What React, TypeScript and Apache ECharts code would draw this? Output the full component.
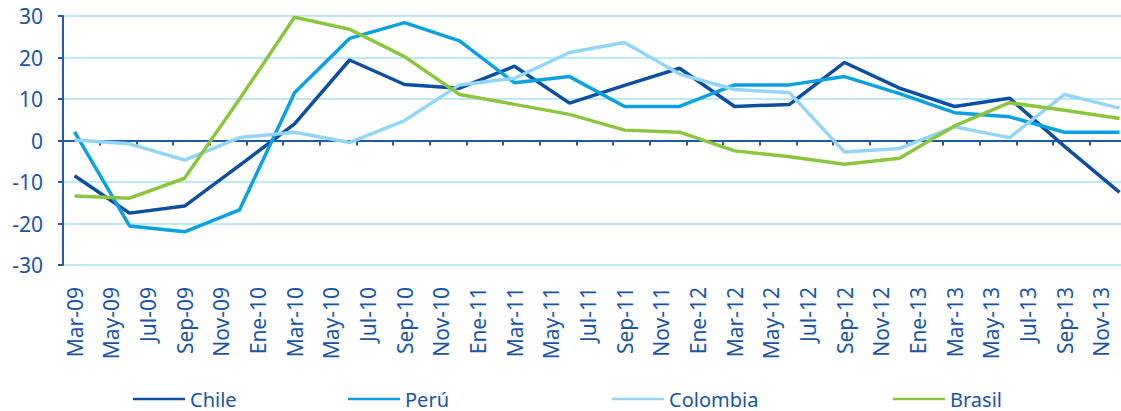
import React, { useEffect, useRef } from "react";
import * as echarts from "echarts";

// Bimonthly axis labels (shown every 2 months)
const axisLabels = [
  "Mar-09", "May-09", "Jul-09", "Sep-09", "Nov-09", "Ene-10", "Mar-10", "May-10",
  "Jul-10", "Sep-10", "Nov-10", "Ene-11", "Mar-11", "May-11", "Jul-11", "Sep-11",
  "Nov-11", "Ene-12", "Mar-12", "May-12", "Jul-12", "Sep-12", "Nov-12", "Ene-13",
  "Mar-13", "May-13", "Jul-13", "Sep-13", "Nov-13",
];

// Quarterly observations (Mar-09 ... Dic-13)
const quarters = [
  "Mar-09", "Jun-09", "Sep-09", "Dic-09", "Mar-10", "Jun-10", "Sep-10", "Dic-10",
  "Mar-11", "Jun-11", "Sep-11", "Dic-11", "Mar-12", "Jun-12", "Sep-12", "Dic-12",
  "Mar-13", "Jun-13", "Sep-13", "Dic-13",
];

const chile = [-8.5, -17.5, -15.8, -6, 4.0, 19.4, 13.5, 12.6, 17.9, 9.0, 13.3, 17.4, 8.2, 8.7, 18.8, 12.6, 8.2, 10.2, -1.4, -12.5];
const peru = [2.1, -20.6, -22.0, -16.7, 11.5, 24.6, 28.4, 24.0, 13.9, 15.4, 8.2, 8.2, 13.4, 13.4, 15.4, 11.3, 6.7, 5.7, 2.0, 2.0];
const colombia = [0.1, -0.8, -4.7, 0.7, 2.0, -0.5, 4.8, 13.4, 15.0, 21.2, 23.6, 16.0, 12.3, 11.5, -2.8, -1.9, 3.3, 0.7, 11.1, 7.8];
const brasil = [-13.4, -13.9, -9.1, 10.0, 29.7, 26.8, 20.2, 11.1, 8.7, 6.3, 2.5, 2.0, -2.5, -3.9, -5.7, -4.3, 3.5, 9.1, 7.3, 5.3];

const seriesNames = ["Chile", "Perú", "Colombia", "Brasil"];
const seriesColors = ["#0c4ea2", "#0aa0e2", "#94d5f6", "#8cc63f"];
const legendLefts = [133, 348, 612, 893];

const yTicks = { min: -30, max: 30, interval: 10 };

export default function App() {
  const ref = useRef<HTMLDivElement>(null);

  useEffect(() => {
    document.body.style.margin = "0";
    if (!ref.current) return;
    const chart = echarts.init(ref.current, undefined, { renderer: "svg" });

    const textColor = "#1a55a5";
    const axisColor = "#1f5aa6";
    const font = "Noto Sans";

    // months since Mar-09 (quarterly points)
    const monthOf = (i: number) => i * 3;
    const xMin = -0.63;
    const xMax = 57.08;
    const labelValues = axisLabels.map((_, k) => k * 2);
    const tickValues = axisLabels.slice(0, 28).map((_, k) => k * 2 + 1.37);

    const allData = [chile, peru, colombia, brasil];

    chart.setOption({
      animation: false,
      grid: { left: 63, right: 0, top: 16, bottom: 146, containLabel: false },
      xAxis: [
        {
          type: "value",
          min: xMin,
          max: xMax,
          position: "bottom",
          axisLine: { show: true, onZero: true, lineStyle: { color: axisColor, width: 2 } },
          axisTick: { show: true, length: 5, customValues: tickValues, lineStyle: { color: axisColor, width: 2 } },
          axisLabel: { show: false },
          splitLine: { show: false },
        },
        {
          type: "value",
          min: xMin,
          max: xMax,
          position: "bottom",
          axisLine: { show: false, onZero: false },
          axisTick: { show: false },
          splitLine: { show: false },
          axisLabel: {
            show: true,
            customValues: labelValues,
            rotate: 90,
            margin: 22,
            fontSize: 21,
            fontFamily: font,
            color: textColor,
            formatter: (v: number) => axisLabels[Math.round(v / 2)] ?? "",
          },
        },
      ],
      yAxis: {
        type: "value",
        min: yTicks.min,
        max: yTicks.max,
        interval: yTicks.interval,
        axisLine: { show: true, onZero: false, lineStyle: { color: axisColor, width: 2 } },
        axisTick: { show: true, length: 5, lineStyle: { color: axisColor, width: 2 } },
        axisLabel: { margin: 20, fontSize: 21, fontFamily: font, color: textColor },
        splitLine: { show: true, lineStyle: { color: "#bde8f9", width: 2 } },
      },
      legend: seriesNames.map((name, k) => ({
        data: [name],
        left: legendLefts[k],
        top: 388,
        padding: 0,
        icon: "rect",
        itemWidth: 52,
        itemHeight: 2.5,
        textStyle: { fontSize: 20, fontFamily: font, color: textColor, lineHeight: 22 },
      })),
      series: seriesNames.map((name, k) => ({
        name,
        type: "line",
        xAxisIndex: 0,
        symbol: "none",
        color: seriesColors[k],
        lineStyle: { width: 3.5, color: seriesColors[k] },
        data: allData[k].map((v, i) => [monthOf(i), v]),
      })),
    });

    return () => chart.dispose();
  }, []);

  return <div ref={ref} style={{ width: 1121, height: 411 }} />;
}
